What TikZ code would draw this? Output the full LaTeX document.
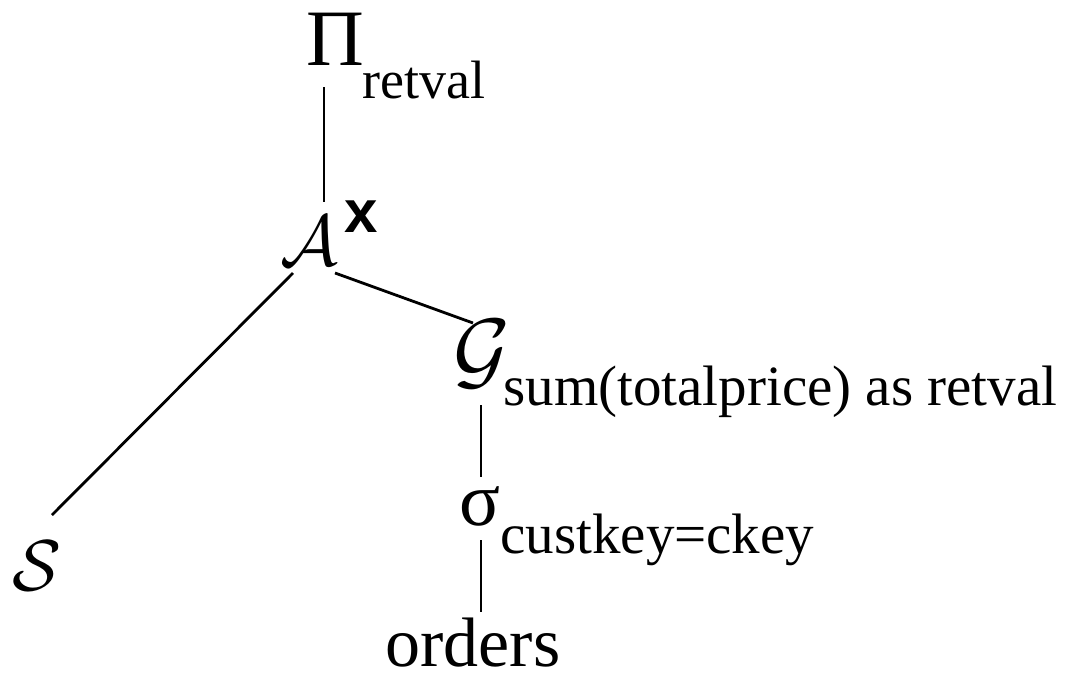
\documentclass[tikz,border=0pt]{standalone}
\usepackage{graphicx}
\usepackage{fontspec}
\setmainfont{Liberation Serif}
\newfontfamily\supfont{Liberation Sans}
\usetikzlibrary{calc}

\newcommand{\fsz}[1]{\fontsize{#1}{#1}\selectfont}
\newcommand{\calsym}[2][1.447]{\scalebox{#1}{\fsz{24.88pt}$\mathcal{#2}$}}

\tikzset{
  op/.style={anchor=base west, inner sep=0pt, font=\fsz{36pt}},
  sub/.style={anchor=base west, inner sep=0pt, font=\fsz{28.5pt}},
  edge/.style={line width=1.4pt},
}

\begin{document}
\begin{tikzpicture}[x=0.5pt,y=-0.5pt]
  \useasboundingbox (0,0) rectangle (1078,675);
  % operators
  \node[op, font=\fsz{40pt}] (proj) at (306,65) {Π};
  \node[sub, font=\fsz{27pt}] (projsub) at (362,98) {retval};
  \node[op] (apply) at (280,265) {\calsym{A}};
  \node[sub, font=\fsz{30pt}\supfont\bfseries] (applysup) at (344,232) {x};
  \node[op] (group) at (453,379) {\calsym[1.75]{G}};
  \node[sub] (groupsub) at (503,405) {sum(totalprice) as retval};
  \node[op, font=\fsz{38pt}] (select) at (459,525) {σ};
  \node[sub] (selectsub) at (500,553) {custkey=ckey};
  % leaves
  \node[op] (schema) at (12,590) {\calsym{S}};
  \node[op, font=\fsz{35pt}] (orders) at (385,666) {orders};
  % edges
  \draw[edge] ($(proj.base west)+(18,22)$) -- ($(apply.base west)+(44,-63)$);
  \draw[edge] ($(apply.base west)+(13,8)$) -- ($(schema.base west)+(40,-75)$);
  \draw[edge] ($(apply.base west)+(55,8)$) -- ($(group.base west)+(20,-56)$);
  \draw[edge] ($(group.base west)+(28,26)$) -- ($(select.base west)+(22,-48)$);
  \draw[edge] ($(select.base west)+(22,15)$) -- ($(orders.base west)+(96,-54)$);
\end{tikzpicture}
\end{document}
